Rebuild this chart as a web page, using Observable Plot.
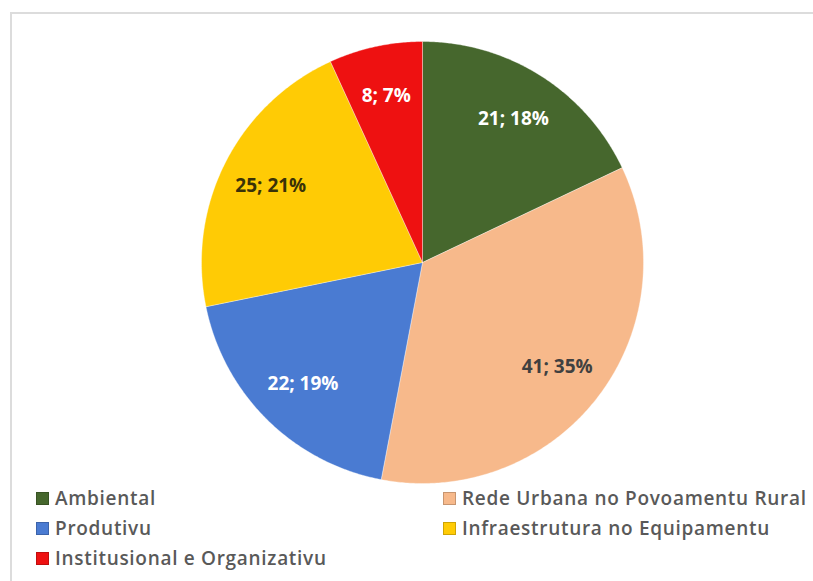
<!DOCTYPE html>
<html>
<head>
<meta charset="utf-8">
<script src="https://cdn.jsdelivr.net/npm/d3@7"></script>
<script src="https://cdn.jsdelivr.net/npm/@observablehq/plot@0.6"></script>
<style>
  html, body { margin: 0; padding: 0; background: #fff; }
  body { width: 813px; height: 581px; position: relative; overflow: hidden; font-family: "Open Sans", sans-serif; }
  #frame { position: absolute; left: 10px; top: 12px; width: 900px; height: 700px; border: 2px solid #dcdcdc; box-sizing: border-box; }
  #chart { position: absolute; left: 0; top: 0; }
  #legend { position: absolute; left: 36px; top: 483px; display: grid; grid-template-columns: 407px auto; grid-auto-rows: 30px; }
  .item { display: flex; align-items: center; font-size: 19px; font-weight: 600; letter-spacing: 0.7px; color: #595959; white-space: nowrap; }
  .sw { width: 13px; height: 13px; margin-right: 6px; flex: none; box-sizing: border-box; }
</style>
</head>
<body>
<div id="frame"></div>
<div id="chart"></div>
<div id="legend"></div>
<script>
const categories = ["Ambiental", "Rede Urbana no Povoamentu Rural", "Produtivu", "Infraestrutura no Equipamentu", "Institusional e Organizativu"];
const values = [21, 41, 22, 25, 8];
const percents = [18, 35, 19, 21, 7];
const colors = ["#46672d", "#f7b98b", "#4a7bd2", "#ffcb05", "#ee1111"];
const labelColors = ["#ffffff", "#404040", "#ffffff", "#3a3208", "#ffffff"];

const total = d3.sum(values);
const slices = [];
const labels = [];
let acc = 0;
categories.forEach((c, i) => {
  const a0 = acc / total * 2 * Math.PI;
  acc += values[i];
  const a1 = acc / total * 2 * Math.PI;
  slices.push({cat: c, x: 0, y: 0});
  const n = Math.max(4, Math.ceil((a1 - a0) / (Math.PI / 360)));
  for (let k = 0; k <= n; k++) {
    const a = a0 + (a1 - a0) * k / n;
    slices.push({cat: c, x: Math.sin(a), y: Math.cos(a)});
  }
  slices.push({cat: c, x: 0, y: 0});
  const m = (a0 + a1) / 2;
  labels.push({cat: c, x: 0.77 * Math.sin(m), y: 0.77 * Math.cos(m), text: `${values[i]}; ${percents[i]}%`, color: labelColors[i]});
});

const chart = Plot.plot({
  width: 813,
  height: 490,
  margin: 0,
  x: {domain: [-1, 1], range: [201, 643], axis: null},
  y: {domain: [-1, 1], range: [483, 41], axis: null},
  color: {domain: categories, range: colors},
  style: {background: "transparent", overflow: "visible"},
  marks: [
    Plot.line(slices, {x: "x", y: "y", z: "cat", fill: "cat", stroke: "#ffffff", strokeOpacity: 0.35, strokeWidth: 1, curve: "linear"}),
    Plot.text(labels, {x: "x", y: "y", text: "text", fill: "color", fontSize: 19, fontWeight: 700, fontFamily: "Open Sans", letterSpacing: 0.6})
  ]
});
document.getElementById("chart").appendChild(chart);

const legend = document.getElementById("legend");
categories.forEach((c, i) => {
  const item = document.createElement("div");
  item.className = "item";
  const sw = document.createElement("span");
  sw.className = "sw";
  sw.style.background = colors[i];
  sw.style.border = "1px solid " + d3.color(colors[i]).darker(0.6);
  item.appendChild(sw);
  item.appendChild(document.createTextNode(c));
  legend.appendChild(item);
});
</script>
</body>
</html>
